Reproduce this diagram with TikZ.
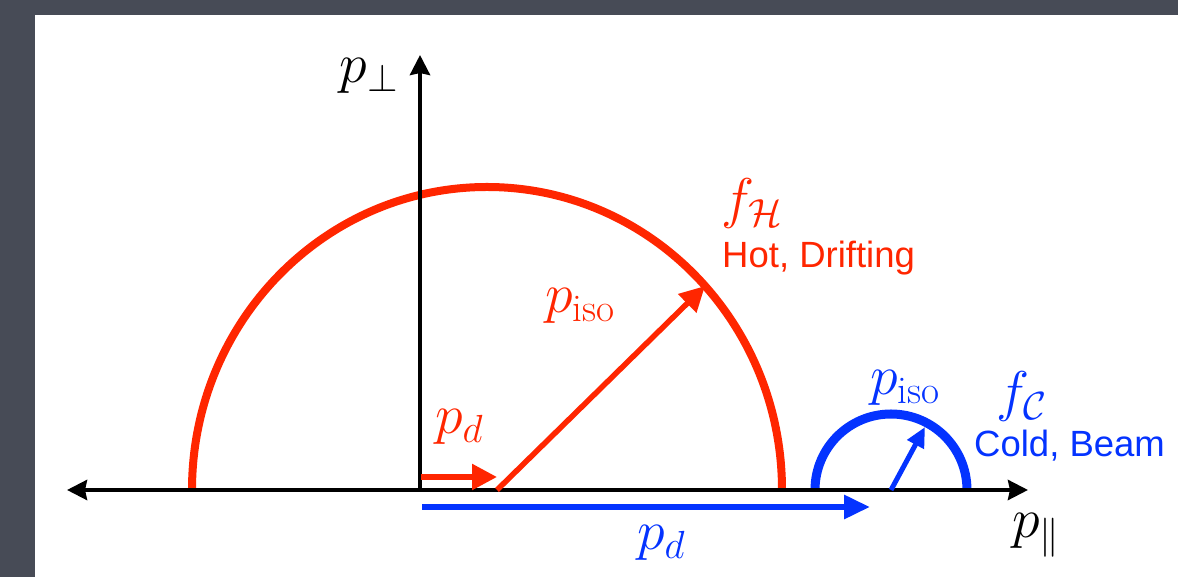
\RequirePackage{fix-cm}
\documentclass[tikz,border=0pt]{standalone}
\usepackage{fontspec}
\newfontfamily\labelfont{Liberation Sans}
\usetikzlibrary{arrows.meta}
\definecolor{kred}{HTML}{FF2600}
\definecolor{kblue}{HTML}{0433FF}
\definecolor{bggray}{HTML}{474B56}
\tikzset{
  mathlbl/.style={inner sep=0pt, font=\fontsize{56}{62}\selectfont},
  textlbl/.style={inner sep=0pt, anchor=base west, font=\labelfont\fontsize{36.5}{40}\selectfont},
  axisline/.style={line width=4pt},
  blacktip/.tip={Stealth[length=20pt,width=20pt,inset=2pt]},
  redtip/.tip={Triangle[length=25pt,width=25pt]},
  bluetip/.tip={Triangle[length=26pt,width=23pt]},
  smalltip/.tip={Triangle[length=20pt,width=18pt]},
}
\begin{document}
\begin{tikzpicture}[x=1pt,y=1pt]
\fill[bggray] (0,0) rectangle (1178,577);
\fill[white] (35,0) rectangle (1178,562);
\useasboundingbox (0,0) rectangle (1178,577);

% coordinates
\coordinate (o) at (420,87);
\coordinate (xl) at (67,87);
\coordinate (xr) at (1028,87);
\coordinate (yt) at (420,522);
\coordinate (hotL) at (192,87);
\coordinate (isoS) at (497,87);
\coordinate (isoE) at (705,291);
\coordinate (pdS) at (421,100);
\coordinate (pdE) at (497,100);
\coordinate (bpdS) at (422,70);
\coordinate (bpdE) at (870,70);
\coordinate (coldL) at (815,87);
\coordinate (bisoS) at (891,87);
\coordinate (bisoE) at (925,150);

% hot distribution
\draw[kred, line width=8pt] (hotL) arc[start angle=180, end angle=0, x radius=295pt, y radius=303pt];
% cold distribution
\draw[kblue, line width=9pt] (coldL) arc[start angle=180, end angle=0, radius=76pt];

% axes
\draw[axisline, blacktip-blacktip] (xl) -- (xr);
\draw[axisline, -blacktip] (o) -- (yt);

% arrows
\draw[kred, line width=5.5pt, -redtip] (isoS) -- (isoE);
\draw[kred, line width=5.5pt, -redtip] (pdS) -- (pdE);
\draw[kblue, line width=6pt, -bluetip] (bpdS) -- (bpdE);
\draw[kblue, line width=5pt, -smalltip] (bisoS) -- (bisoE);

% labels
\node[mathlbl] (pperp) at (369,501) {$p_\perp$};
\node[mathlbl] (ppar) at (1036,42) {$p_\parallel$};
\node[mathlbl, text=kred] (rpd) at (459,150) {$p_d$};
\node[mathlbl, text=kred] (rpiso) at (580,271) {$p_{\mathrm{iso}}$};
\node[mathlbl, text=kblue] (bpd) at (661,34) {$p_d$};
\node[mathlbl, text=kblue] (bpiso) at (905,189) {$p_{\mathrm{iso}}$};
\node[mathlbl, text=kred] (fh) at (752,373) {$f_{\mathcal{H}}$};
\node[mathlbl, text=kblue] (fc) at (1022,180) {$f_{\mathcal{C}}$};
\node[textlbl, text=kred] (hot) at (722,309) {Hot, Drifting};
\node[textlbl, text=kblue] (cold) at (974,120) {Cold, Beam};
\end{tikzpicture}
\end{document}
